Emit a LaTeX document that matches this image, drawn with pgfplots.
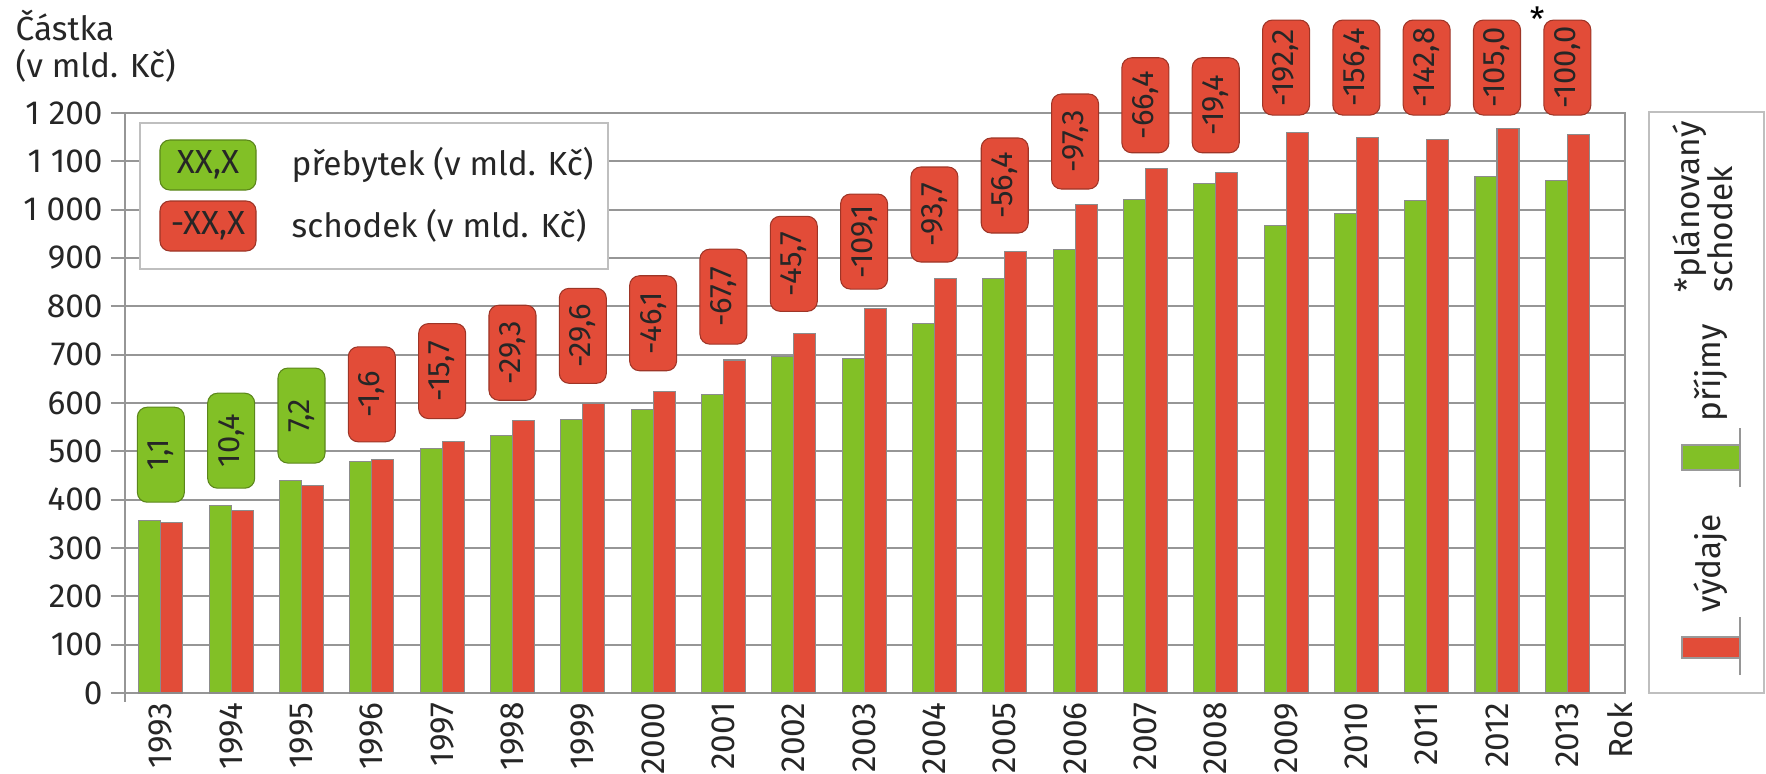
\documentclass[border=0pt]{standalone}
\usepackage{fontspec}
\setmainfont{Fira Sans}
\usepackage{pgfplots}
\pgfplotsset{compat=1.18}
\definecolor{cgreen}{RGB}{130,192,38}
\definecolor{cred}{RGB}{226,76,56}
\definecolor{cgrid}{RGB}{150,150,150}
\newcommand\fs{\fontsize{9.5}{11.4}\selectfont}
\newcommand\fb{\fontsize{8.8}{10.5}\selectfont}
\newcommand\fx{\fontsize{9.5}{11}\selectfont}

\pgfplotstableread{
x g r
1993 356 352
1994 388 377
1995 439 429
1996 479 484
1997 505 521
1998 532 563
1999 565 598
2000 586 623
2001 618 689
2002 696 744
2003 692 796
2004 765 858
2005 858 914
2006 917 1011
2007 1022 1086
2008 1055 1077
2009 967 1159
2010 993 1150
2011 1018 1146
2012 1068 1168
2013 1060 1156
}\bars

\pgfplotstableread{
x y lab
1993 493 1,1
1994 522 10,4
1995 574 7,2
}\plus

\pgfplotstableread{
x y lab
1996 618 -1,6
1997 666 -15,7
1998 704 -29,3
1999 739 -29,6
2000 765 -46,1
2001 820 -67,7
2002 888 -45,7
2003 934 -109,1
2004 990 -93,7
2005 1050 -56,4
2006 1141 -97,3
2007 1216 -66,4
2008 1216 -19,4
2009 1294 -192,2
2010 1294 -156,4
2011 1294 -142,8
2012 1294 -105,0
2013 1294 -100,0
}\minus

\begin{document}
\begin{tikzpicture}
\useasboundingbox (-1.25,-0.80) rectangle (16.41,6.93);
\begin{axis}[
  at={(0,0)}, anchor=south west,
  scale only axis, width=15cm, height=5.8cm,
  xmin=1992.49, xmax=2013.82, ymin=0, ymax=1200,
  clip=false,
  axis line style={cgrid, line width=0.6pt},
  ymajorgrids, grid style={cgrid, line width=0.55pt},
  ytick={0,100,...,1200},
  yticklabels={0,100,200,300,400,500,600,700,800,900,1 000,1 100,1 200},
  ytick pos=left,
  ytick style={cgrid, line width=0.55pt, xshift=-0.14cm},
  major tick length=0.14cm,
  xtick={1993,1994,1995,1996,1997,1998,1999,2000,2001,2002,2003,2004,2005,2006,2007,2008,2009,2010,2011,2012,2013},
  xticklabels={1993,1994,1995,1996,1997,1998,1999,2000,2001,2002,2003,2004,2005,2006,2007,2008,2009,2010,2011,2012,2013},
  xtick style={draw=none},
  xticklabel style={rotate=90, anchor=east, font=\fx, text=black!85, inner sep=2.5pt},
  yticklabel style={font=\fs, text=black!85, xshift=-0.10cm},
  extra x ticks={2013.75}, extra x tick labels={Rok},
  extra x tick style={xtick style={draw=none}},
]
\addplot[ybar, bar width=0.22cm, bar shift=-0.11cm, fill=cgreen, draw=black!45, line width=0.3pt] table[x=x, y=g] {\bars};
\addplot[ybar, bar width=0.22cm, bar shift=0.11cm, fill=cred, draw=black!45, line width=0.3pt] table[x=x, y=r] {\bars};

\addplot[draw=none, mark=none, nodes near coords, point meta=explicit symbolic,
  nodes near coords style={anchor=center, rotate=90, fill=cgreen, draw=cgreen!70!black, line width=0.3pt,
  rounded corners=2.8pt, minimum width=0.95cm, minimum height=0.47cm, inner sep=0pt, font=\fb, text=black!85}]
  table[x=x, y=y, meta=lab] {\plus};
\addplot[draw=none, mark=none, nodes near coords, point meta=explicit symbolic,
  nodes near coords style={anchor=center, rotate=90, fill=cred, draw=cred!70!black, line width=0.3pt,
  rounded corners=2.8pt, minimum width=0.95cm, minimum height=0.47cm, inner sep=0pt, font=\fb, text=black!85}]
  table[x=x, y=y, meta=lab] {\minus};

\node[font=\fs, inner sep=0pt] at (axis cs:2012.57,1395) {*};
\end{axis}

% y-axis extension below 0
\draw[cgrid, line width=0.6pt] (0,0) -- (0,-0.09);

% axis title
\node[anchor=base west, inner sep=0pt, font=\fs, text=black!85] at (-1.10,6.52) {Částka};
\node[anchor=base west, inner sep=0pt, font=\fs, text=black!85] at (-1.10,6.15) {(v mld. Kč)};

% legend (top left)
\draw[draw=black!25, line width=0.6pt, fill=white] (0.15,5.70) rectangle (4.83,4.24);
\node[fill=cgreen, draw=cgreen!70!black, line width=0.3pt, rounded corners=2.8pt, minimum width=0.96cm, minimum height=0.50cm, inner sep=0pt, font=\fs, text=black!85] at (0.83,5.28) {XX,X};
\node[fill=cred, draw=cred!70!black, line width=0.3pt, rounded corners=2.8pt, minimum width=0.96cm, minimum height=0.50cm, inner sep=0pt, font=\fs, text=black!85] at (0.83,4.67) {-XX,X};
\node[anchor=west, inner sep=0pt, font=\fs, text=black!85] at (1.66,5.28) {přebytek (v mld. Kč)};
\node[anchor=west, inner sep=0pt, font=\fs, text=black!85] at (1.66,4.67) {schodek (v mld. Kč)};

% right legend
\draw[draw=black!25, line width=0.6pt] (15.24,5.81) rectangle (16.39,0);
\filldraw[fill=cred, draw=black!40, line width=0.3pt] (15.57,0.35) rectangle (16.15,0.56);
\draw[cgrid, line width=0.6pt] (16.15,0.18) -- (16.15,0.76);
\filldraw[fill=cgreen, draw=black!40, line width=0.3pt] (15.57,2.23) rectangle (16.15,2.48);
\draw[cgrid, line width=0.6pt] (16.15,2.06) -- (16.15,2.65);
\node[rotate=90, anchor=base west, inner sep=0pt, font=\fs, text=black!85] at (15.95,0.80) {výdaje};
\node[rotate=90, anchor=base west, inner sep=0pt, font=\fs, text=black!85] at (15.95,2.71) {příjmy};
\node[rotate=90, anchor=base west, inner sep=0pt, font=\fs, text=black!85] at (15.74,4.00) {*plánovaný};
\node[rotate=90, anchor=base west, inner sep=0pt, font=\fs, text=black!85] at (16.07,4.00) {schodek};
\end{tikzpicture}
\end{document}
